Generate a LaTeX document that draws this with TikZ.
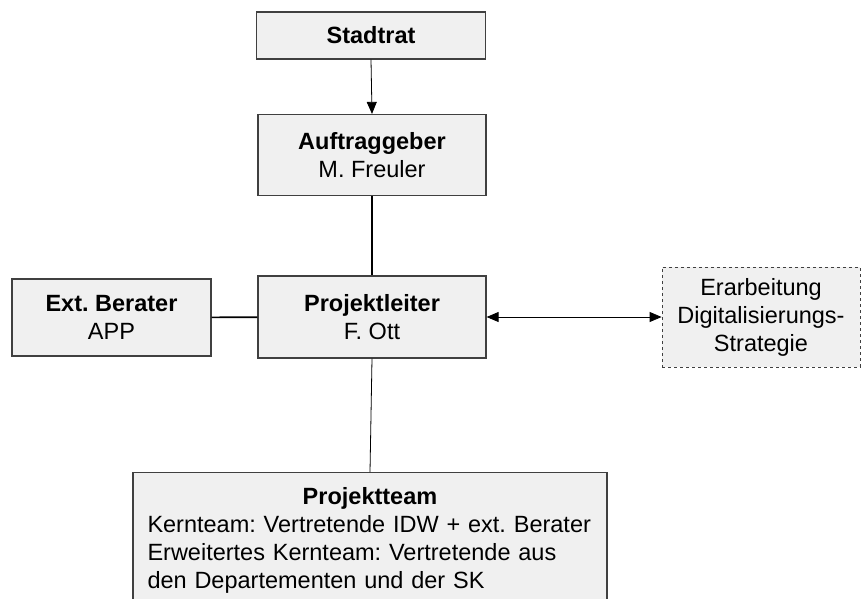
\documentclass[tikz,border=0pt]{standalone}
\usepackage{fontspec}
\setmainfont{Liberation Sans}
\usetikzlibrary{arrows.meta}
\definecolor{boxfill}{RGB}{240,240,240}
\definecolor{boxline}{RGB}{64,64,64}
\frenchspacing

\begin{document}
\begin{tikzpicture}[x=1pt,y=-1pt,>={Triangle[length=12pt,width=10pt]},
  box/.style={draw=boxline,fill=boxfill,line width=1.2pt,align=center,inner sep=0pt,font=\fontsize{23.5}{28}\selectfont}]
\useasboundingbox (0,0) rectangle (862,598);
\node[box,minimum width=229,minimum height=47] (stadtrat) at (371,35.5) {\textbf{Stadtrat}};
\node[box,minimum width=228,minimum height=81] (auftrag) at (372,155) {\textbf{Auftraggeber}\\M. Freuler};
\node[box,minimum width=228,minimum height=82] (leiter) at (372,317) {\textbf{Projektleiter}\\F. Ott};
\node[box,minimum width=199,minimum height=77] (berater) at (111.5,317.5) {\textbf{Ext. Berater}\\APP};
\node[box,dashed,line width=0.8pt,minimum width=198,minimum height=100] (strategie) at (761,317) {Erarbeitung\\Digitalisierungs-\\Strategie};
\node[box,anchor=north,text width=445,inner xsep=14.5,inner ysep=15,align=left] (team) at (370,472)
  {\makebox[445pt]{\textbf{Projektteam}}\\Kernteam: Vertretende IDW + ext. Berater\\Erweitertes Kernteam: Vertretende aus\\den Departementen und der SK\rule[-40pt]{0pt}{0pt}};
\draw[->,line width=0.8pt] (stadtrat.south) -- (auftrag.north);
\draw[line width=1.6pt] (auftrag) -- (leiter);
\draw[line width=1.6pt] (berater) -- (leiter);
\draw[<->,line width=0.8pt] (leiter) -- (strategie);
\draw[line width=0.8pt] (leiter.south) -- (team.north);
\end{tikzpicture}
\end{document}
